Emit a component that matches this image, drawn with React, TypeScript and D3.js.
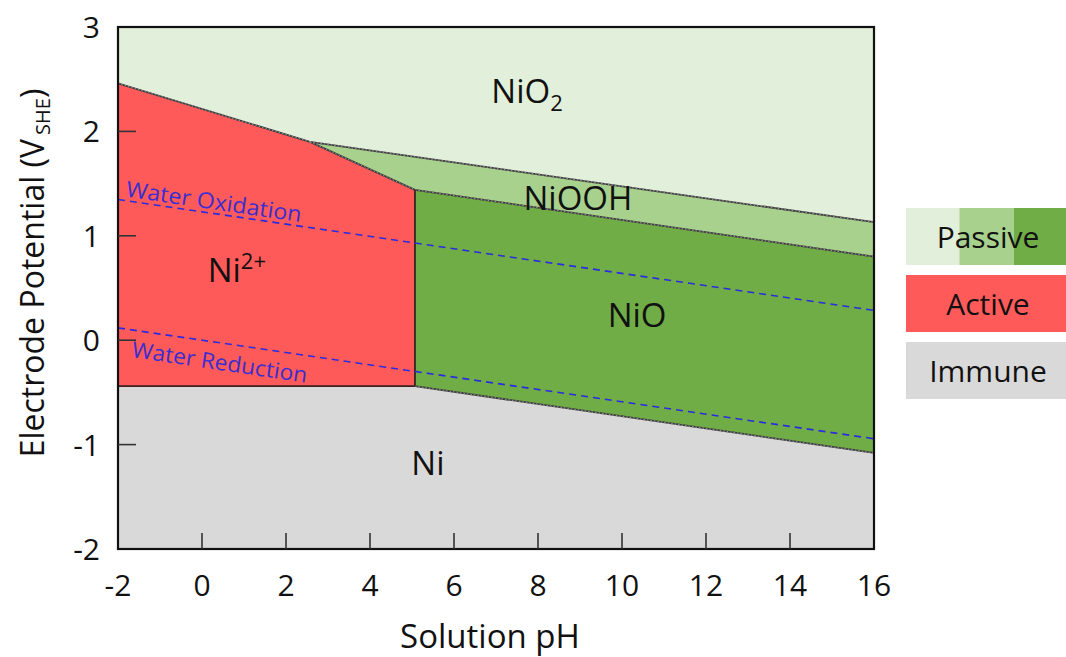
import { useRef, useEffect } from 'react'
import * as d3 from 'd3'

// pourbaix data for nickel (pH, E vs SHE)
const xTicks = [-2, 0, 2, 4, 6, 8, 10, 12, 14, 16]
const yTicks = [-2, -1, 0, 1, 2, 3]

const ni2NiO2 = [[-2, 2.46], [2.57, 1.9]]
const ni2NiOOH = [[2.57, 1.9], [5.07, 1.44]]
const niO2NiOOH = [[2.57, 1.9], [16, 1.13]]
const niOOHNiO = [[5.07, 1.44], [16, 0.8]]
const ni2NiO = [[5.07, 1.44], [5.07, -0.44]]
const niNi2 = [[-2, -0.44], [5.07, -0.44]]
const niNiO = [[5.07, -0.44], [16, -1.08]]

const waterOx = [[-2, 1.348], [16, 0.286]]
const waterRed = [[-2, 0.118], [16, -0.944]]

const regionNames = ['NiO2', 'NiOOH', 'NiO', 'Ni2+', 'Ni']
const regionColors = ['#e2efda', '#a9d18e', '#70ad47', '#ff5a5a', '#d9d9d9']
const regionPolys = [
  [[-2, 3], [16, 3], [16, 1.13], [2.57, 1.9], [-2, 2.46]],
  [[2.57, 1.9], [16, 1.13], [16, 0.8], [5.07, 1.44]],
  [[5.07, 1.44], [16, 0.8], [16, -1.08], [5.07, -0.44]],
  [[-2, 2.46], [2.57, 1.9], [5.07, 1.44], [5.07, -0.44], [-2, -0.44]],
  [[-2, -0.44], [5.07, -0.44], [16, -1.08], [16, -2], [-2, -2]],
]
// label anchor positions in data units
const regionLabelPos = [[7.74, 2.27], [8.95, 1.25], [10.36, 0.13], [0.83, 0.56], [5.38, -1.29]]

const legendNames = ['Passive', 'Active', 'Immune']

const FONT = '"Open Sans", sans-serif'

const App = () => {
  const svgRef = useRef()

  useEffect(() => {
    const w = 1066
    const h = 657
    const svg = d3.select(svgRef.current)
    svg.selectAll('*').remove()

    const x = d3.scaleLinear().domain([-2, 16]).range([118, 874])
    const y = d3.scaleLinear().domain([-2, 3]).range([549, 27])
    const line = d3.line().x(d => x(d[0])).y(d => y(d[1]))

    // regions
    svg.selectAll('.region')
      .data(regionPolys)
      .join('path')
      .attr('d', d => line(d) + 'Z')
      .attr('fill', (d, i) => regionColors[i])

    // sloped boundaries: dark line with white dotted core
    const sloped = [ni2NiO2, ni2NiOOH, niO2NiOOH, niOOHNiO, niNiO]
    svg.selectAll('.bnd')
      .data(sloped)
      .join('path')
      .attr('d', d => line(d))
      .attr('stroke', '#3a3a3a')
      .attr('stroke-width', 1.8)
      .attr('fill', 'none')
    svg.selectAll('.bndw')
      .data(sloped)
      .join('path')
      .attr('d', d => line(d))
      .attr('stroke', '#ffffff')
      .attr('stroke-width', 0.6)
      .attr('stroke-dasharray', '1.5,2')
      .attr('opacity', 0.8)
      .attr('fill', 'none')
    svg.selectAll('.bnds')
      .data([ni2NiO, niNi2])
      .join('path')
      .attr('d', d => line(d))
      .attr('stroke', '#3a2222')
      .attr('stroke-width', 1.8)
      .attr('fill', 'none')

    // water lines
    svg.selectAll('.water')
      .data([waterOx, waterRed])
      .join('path')
      .attr('d', d => line(d))
      .attr('stroke', '#2b2be0')
      .attr('stroke-width', 1.6)
      .attr('stroke-dasharray', '7,5')
      .attr('fill', 'none')

    const ang = Math.atan2(y(waterOx[1][1]) - y(waterOx[0][1]), x(waterOx[1][0]) - x(waterOx[0][0])) * 180 / Math.PI
    const wl = (pts, px, dy, label) => {
      const t = (px - pts[0][0]) / (pts[1][0] - pts[0][0])
      const e = pts[0][1] + t * (pts[1][1] - pts[0][1])
      svg.append('text')
        .attr('transform', `translate(${x(px)},${y(e)}) rotate(${ang}) translate(0,${dy})`)
        .attr('font-family', FONT)
        .attr('font-size', 22)
        .attr('textLength', 177)
        .attr('lengthAdjust', 'spacingAndGlyphs')
        .attr('fill', '#3a2ed0')
        .text(label)
    }
    wl(waterOx, -1.84, -4, 'Water Oxidation')
    wl(waterRed, -1.6, 27, 'Water Reduction')

    // region labels
    regionNames.forEach((name, i) => {
      const t = svg.append('text')
        .attr('x', x(regionLabelPos[i][0]))
        .attr('y', y(regionLabelPos[i][1]))
        .attr('text-anchor', 'middle')
        .attr('font-family', FONT)
        .attr('font-size', 33)
        .attr('fill', '#111')
      if (name === 'NiO2') {
        t.append('tspan').text('NiO')
        t.append('tspan').attr('font-size', 22).attr('dy', 8).text('2')
      } else if (name === 'Ni2+') {
        t.append('tspan').text('Ni')
        t.append('tspan').attr('font-size', 22).attr('dy', -13).text('2+')
      } else {
        t.text(name)
      }
    })

    // frame
    svg.append('rect')
      .attr('x', x(-2)).attr('y', y(3))
      .attr('width', x(16) - x(-2)).attr('height', y(-2) - y(3))
      .attr('fill', 'none').attr('stroke', '#111').attr('stroke-width', 2.2)

    // ticks inside
    svg.selectAll('.yt')
      .data(yTicks.slice(1, -1))
      .join('line')
      .attr('x1', x(-2)).attr('x2', x(-2) + 18)
      .attr('y1', d => y(d)).attr('y2', d => y(d))
      .attr('stroke', '#333').attr('stroke-width', 1.6)
    svg.selectAll('.xt')
      .data(xTicks.slice(1, -1))
      .join('line')
      .attr('x1', d => x(d)).attr('x2', d => x(d))
      .attr('y1', y(-2)).attr('y2', y(-2) - 16)
      .attr('stroke', '#333').attr('stroke-width', 1.6)

    // tick labels
    svg.selectAll('.yl')
      .data(yTicks)
      .join('text')
      .attr('x', 100).attr('y', d => y(d) + 11)
      .attr('text-anchor', 'end')
      .attr('font-family', FONT).attr('font-size', 30).attr('fill', '#111')
      .text(d => d)
    svg.selectAll('.xl')
      .data(xTicks)
      .join('text')
      .attr('x', d => x(d)).attr('y', 596)
      .attr('text-anchor', 'middle')
      .attr('font-family', FONT).attr('font-size', 30).attr('fill', '#111')
      .text(d => d)

    // axis titles
    svg.append('text')
      .attr('x', 490).attr('y', 648)
      .attr('text-anchor', 'middle')
      .attr('font-family', FONT).attr('font-size', 33).attr('fill', '#111')
      .text('Solution pH')
    const yt = svg.append('text')
      .attr('transform', 'translate(44,273) rotate(-90)')
      .attr('text-anchor', 'middle')
      .attr('font-family', FONT).attr('font-size', 32).attr('fill', '#111')
    yt.append('tspan').text('Electrode Potential (V')
    yt.append('tspan').attr('font-size', 20).attr('dy', 6).attr('dx', 4).text('SHE')
    yt.append('tspan').attr('dy', -6).text(')')

    // legend
    const lg = svg.append('g')
    const lx = 906
    const lw = 160
    const rows = [208, 275, 342]
    const rh = 57
    const passive = [regionColors[0], regionColors[1], regionColors[2]]
    passive.forEach((c, i) => {
      lg.append('rect')
        .attr('x', lx + i * 54.5 - (i === 0 ? 0 : 1)).attr('y', rows[0])
        .attr('width', i === 2 ? lw - 109 + 1 : 55.5).attr('height', rh)
        .attr('fill', c)
    })
    lg.append('rect').attr('x', lx).attr('y', rows[1]).attr('width', lw).attr('height', rh).attr('fill', regionColors[3])
    lg.append('rect').attr('x', lx).attr('y', rows[2]).attr('width', lw).attr('height', rh).attr('fill', regionColors[4])
    lg.selectAll('.lt')
      .data(legendNames)
      .join('text')
      .attr('x', 988).attr('y', (d, i) => rows[i] + 40)
      .attr('text-anchor', 'middle')
      .attr('font-family', FONT).attr('font-size', 30).attr('fill', '#111')
      .text(d => d)

    svg.attr('width', w).attr('height', h)
  }, [])

  return (
    <div style={{ position: 'absolute', left: 0, top: 0 }}>
      <svg ref={svgRef} style={{ display: 'block' }}></svg>
    </div>
  )
}

export default App
